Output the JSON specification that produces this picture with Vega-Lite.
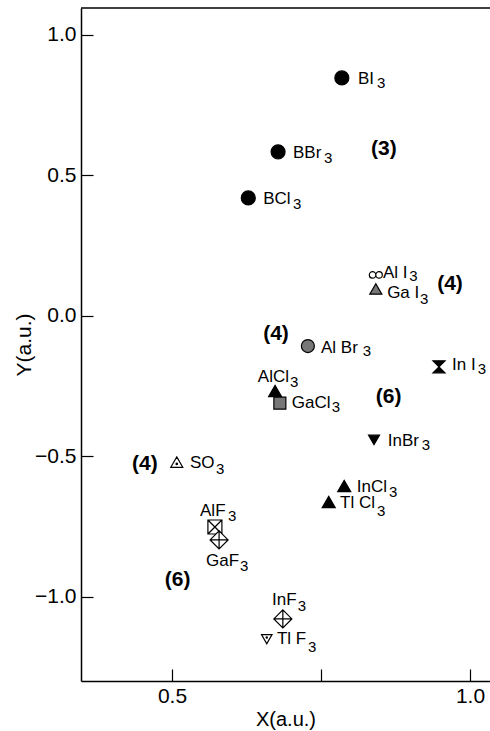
{
  "$schema": "https://vega.github.io/schema/vega-lite/v6.json",
  "width": 409,
  "height": 673,
  "autosize": "none",
  "padding": {"left": 81, "top": 8, "right": 0, "bottom": 50},
  "background": "white",
  "config": {
    "view": {"stroke": null},
    "font": "Liberation Sans",
    "axis": {
      "domainColor": "black",
      "domainWidth": 1.5,
      "tickColor": "black",
      "tickWidth": 1.2,
      "tickSize": -12,
      "labelColor": "black",
      "labelFont": "Liberation Sans",
      "labelFontSize": 21,
      "titleFont": "Liberation Sans",
      "titleFontSize": 21,
      "titleFontWeight": "normal",
      "titleColor": "black",
      "grid": false
    }
  },
  "datasets": {
    "points": [
      {"name": "BI3", "x": 0.785, "y": 0.847, "kind": "filled circle"},
      {"name": "BBr3", "x": 0.678, "y": 0.584, "kind": "filled circle"},
      {"name": "BCl3", "x": 0.628, "y": 0.42, "kind": "filled circle"},
      {"name": "AlI3", "x": 0.842, "y": 0.146, "kind": "infinity"},
      {"name": "GaI3", "x": 0.842, "y": 0.096, "kind": "hatched triangle"},
      {"name": "AlBr3", "x": 0.728, "y": -0.107, "kind": "hatched circle"},
      {"name": "InI3", "x": 0.948, "y": -0.181, "kind": "hourglass"},
      {"name": "AlCl3", "x": 0.673, "y": -0.267, "kind": "filled triangle"},
      {"name": "GaCl3", "x": 0.681, "y": -0.31, "kind": "hatched square"},
      {"name": "InBr3", "x": 0.839, "y": -0.441, "kind": "filled inverted triangle"},
      {"name": "SO3", "x": 0.508, "y": -0.52, "kind": "dotted triangle"},
      {"name": "InCl3", "x": 0.789, "y": -0.605, "kind": "filled triangle"},
      {"name": "TlCl3", "x": 0.763, "y": -0.662, "kind": "filled triangle"},
      {"name": "AlF3", "x": 0.572, "y": -0.751, "kind": "crossed square"},
      {"name": "GaF3", "x": 0.579, "y": -0.797, "kind": "crossed diamond"},
      {"name": "InF3", "x": 0.686, "y": -1.078, "kind": "crossed diamond"},
      {"name": "TlF3", "x": 0.659, "y": -1.15, "kind": "dotted inverted triangle"}
    ],
    "labels": [
      {"text": "BI", "x": 0.812, "y": 0.843},
      {"text": "BBr", "x": 0.703, "y": 0.58},
      {"text": "BCl", "x": 0.653, "y": 0.416},
      {"text": "Al I", "x": 0.854, "y": 0.153},
      {"text": "Ga I", "x": 0.861, "y": 0.082},
      {"text": "Al Br", "x": 0.75, "y": -0.114},
      {"text": "In I", "x": 0.97, "y": -0.174},
      {"text": "AlCl", "x": 0.644, "y": -0.217},
      {"text": "GaCl", "x": 0.701, "y": -0.31},
      {"text": "InBr", "x": 0.862, "y": -0.445},
      {"text": "SO", "x": 0.53, "y": -0.523},
      {"text": "InCl", "x": 0.81, "y": -0.608},
      {"text": "Tl Cl", "x": 0.782, "y": -0.665},
      {"text": "AlF", "x": 0.547, "y": -0.694},
      {"text": "GaF", "x": 0.557, "y": -0.872},
      {"text": "InF", "x": 0.668, "y": -1.011},
      {"text": "Tl F", "x": 0.676, "y": -1.149}
    ],
    "subscripts": [
      {"text": "3", "of": "BI3", "x": 0.844, "y": 0.829},
      {"text": "3", "of": "BBr3", "x": 0.755, "y": 0.562},
      {"text": "3", "of": "BCl3", "x": 0.703, "y": 0.399},
      {"text": "3", "of": "AlI3", "x": 0.898, "y": 0.142},
      {"text": "3", "of": "GaI3", "x": 0.916, "y": 0.062},
      {"text": "3", "of": "AlBr3", "x": 0.82, "y": -0.125},
      {"text": "3", "of": "InI3", "x": 1.013, "y": -0.188},
      {"text": "3", "of": "AlCl3", "x": 0.698, "y": -0.235},
      {"text": "3", "of": "GaCl3", "x": 0.768, "y": -0.324},
      {"text": "3", "of": "InBr3", "x": 0.919, "y": -0.459},
      {"text": "3", "of": "SO3", "x": 0.574, "y": -0.544},
      {"text": "3", "of": "InCl3", "x": 0.864, "y": -0.626},
      {"text": "3", "of": "TlCl3", "x": 0.844, "y": -0.694},
      {"text": "3", "of": "AlF3", "x": 0.594, "y": -0.712},
      {"text": "3", "of": "GaF3", "x": 0.614, "y": -0.89},
      {"text": "3", "of": "InF3", "x": 0.711, "y": -1.032},
      {"text": "3", "of": "TlF3", "x": 0.728, "y": -1.178}
    ],
    "groups": [
      {"text": "(3)", "x": 0.834, "y": 0.594},
      {"text": "(4)", "x": 0.945, "y": 0.114},
      {"text": "(4)", "x": 0.653, "y": -0.064},
      {"text": "(6)", "x": 0.842, "y": -0.288},
      {"text": "(4)", "x": 0.433, "y": -0.527},
      {"text": "(6)", "x": 0.488, "y": -0.94}
    ],
    "frame": [{"top": 1.096}]
  },
  "encoding": {
    "x": {
      "field": "x",
      "type": "quantitative",
      "scale": {"domain": [0.3473, 1.0336], "nice": false, "zero": false},
      "axis": {
        "title": "X(a.u.)",
        "values": [0.5, 0.75, 1.0],
        "labelExpr": "datum.value == 0.75 ? '' : format(datum.value, '.1f')",
        "labelPadding": 16,
        "titlePadding": 3,
        "titleFontSize": 20
      }
    },
    "y": {
      "field": "y",
      "type": "quantitative",
      "scale": {"domain": [-1.299, 1.096], "nice": false, "zero": false},
      "axis": {
        "title": "Y(a.u.)",
        "values": [-1, -0.5, 0, 0.5, 1],
        "format": ".1f",
        "labelPadding": 17,
        "titlePadding": 0
      }
    }
  },
  "layer": [
    {
      "data": {"name": "frame"},
      "mark": {"type": "rule", "color": "black", "strokeWidth": 1.5},
      "encoding": {"x": null, "y": {"field": "top", "type": "quantitative"}}
    },
    {
      "data": {"name": "points"},
      "mark": {"type": "point", "stroke": "black", "strokeWidth": 1.2, "opacity": 1, "fillOpacity": 1},
      "encoding": {
        "shape": {
          "field": "kind",
          "type": "nominal",
          "legend": null,
          "scale": {
            "type": "ordinal",
            "domain": ["filled circle", "infinity", "hatched triangle", "hatched circle", "hourglass", "filled triangle", "hatched square", "filled inverted triangle", "dotted triangle", "crossed square", "crossed diamond", "dotted inverted triangle"],
            "range": [
              "circle",
              "M0,0A0.5,0.5 0 1,1 -1,0A0.5,0.5 0 1,1 0,0A0.5,0.5 0 1,1 1,0A0.5,0.5 0 1,1 0,0Z",
              "triangle-up",
              "circle",
              "M-1,-1L1,-1L-1,1L1,1Z",
              "triangle-up",
              "square",
              "triangle-down",
              "M0,-0.87L1,0.87L-1,0.87ZM-0.12,0.3A0.12,0.12 0 1,0 0.12,0.3A0.12,0.12 0 1,0 -0.12,0.3Z",
              "M-1,-1L1,-1L1,1L-1,1ZM-1,-1L1,1M1,-1L-1,1",
              "M0,-1L1,0L0,1L-1,0ZM0,-1L0,1M-1,0L1,0",
              "M-1,-0.87L1,-0.87L0,0.87ZM-0.12,-0.3A0.12,0.12 0 1,0 0.12,-0.3A0.12,0.12 0 1,0 -0.12,-0.3Z"
            ]
          }
        },
        "fill": {
          "field": "kind",
          "type": "nominal",
          "legend": null,
          "scale": {
            "type": "ordinal",
            "domain": ["filled circle", "infinity", "hatched triangle", "hatched circle", "hourglass", "filled triangle", "hatched square", "filled inverted triangle", "dotted triangle", "crossed square", "crossed diamond", "dotted inverted triangle"],
            "range": ["black", "white", "#777777", "#777777", "black", "black", "#777777", "black", "white", "white", "white", "white"]
          }
        },
        "size": {
          "field": "kind",
          "type": "nominal",
          "legend": null,
          "scale": {
            "type": "ordinal",
            "domain": ["filled circle", "infinity", "hatched triangle", "hatched circle", "hourglass", "filled triangle", "hatched square", "filled inverted triangle", "dotted triangle", "crossed square", "crossed diamond", "dotted inverted triangle"],
            "range": [196, 169, 144, 169, 144, 169, 144, 121, 144, 196, 324, 110]
          }
        }
      }
    },
    {
      "data": {"name": "labels"},
      "mark": {"type": "text", "align": "left", "baseline": "middle", "font": "Liberation Sans", "fontSize": 17, "color": "black"},
      "encoding": {"text": {"field": "text"}}
    },
    {
      "data": {"name": "subscripts"},
      "mark": {"type": "text", "align": "left", "baseline": "middle", "font": "Liberation Sans", "fontSize": 15, "color": "black"},
      "encoding": {"text": {"field": "text"}}
    },
    {
      "data": {"name": "groups"},
      "mark": {"type": "text", "align": "left", "baseline": "middle", "font": "Liberation Sans", "fontSize": 21, "fontWeight": "bold", "color": "black"},
      "encoding": {"text": {"field": "text"}}
    }
  ]
}
